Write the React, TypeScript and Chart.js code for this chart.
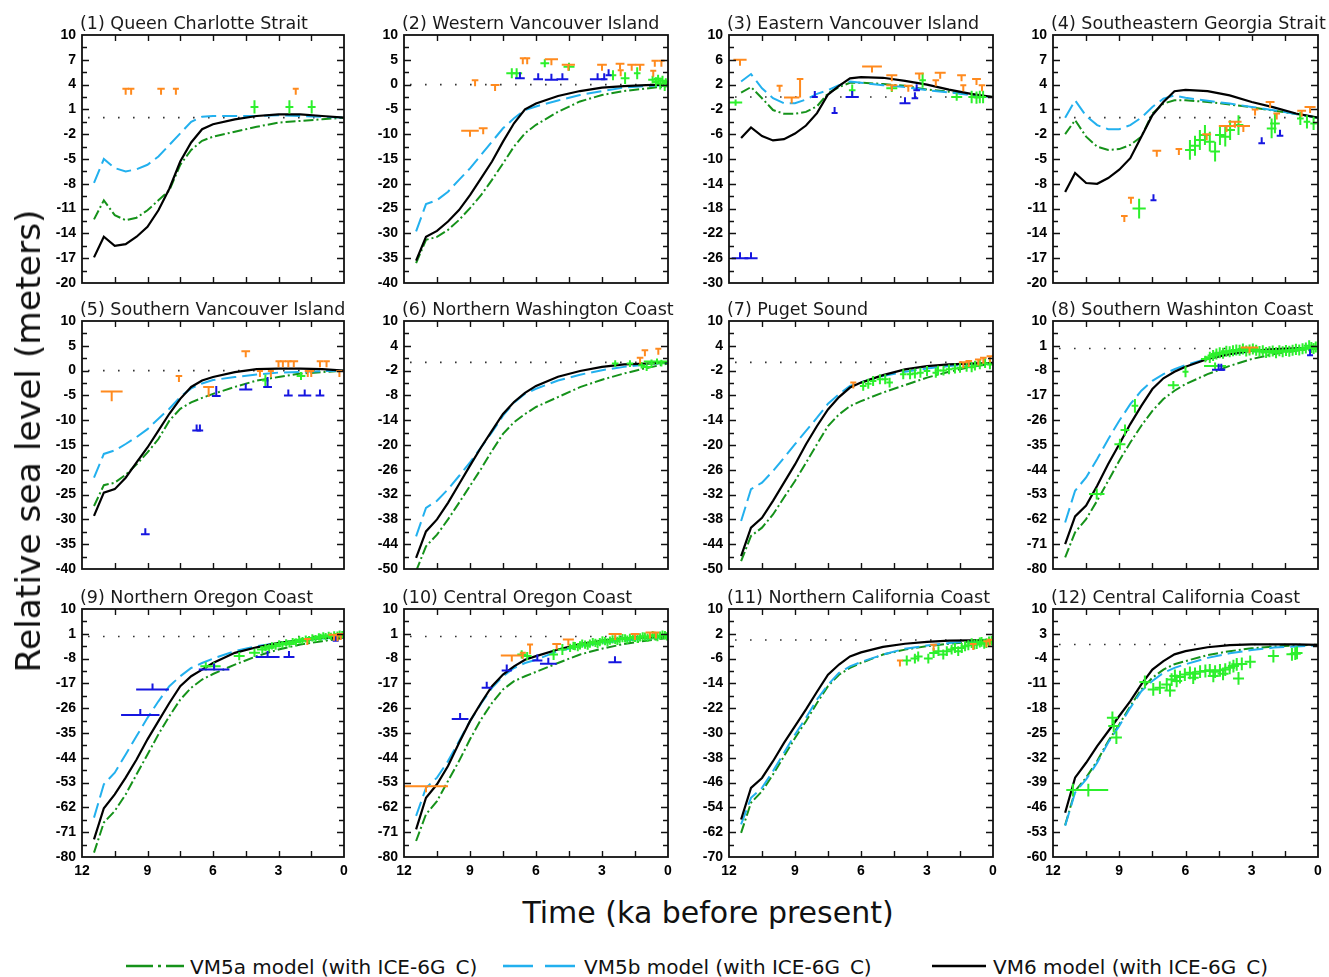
import React, { useEffect, useRef } from 'react';
import { Chart, registerables } from 'chart.js';

Chart.register(...registerables);

// ---------------- DATA ----------------
// model sampling ages (ka before present)
const ageNodes = [11.45, 11, 10.5, 10, 9.5, 9, 8.5, 8, 7.5, 7, 6.5, 6, 5, 4, 3, 2, 1, 0];

const panelTitles = [
  '(1) Queen Charlotte Strait',
  '(2) Western Vancouver Island',
  '(3) Eastern Vancouver Island',
  '(4) Southeastern Georgia Strait',
  '(5) Southern Vancouver Island',
  '(6) Northern Washington Coast',
  '(7) Puget Sound',
  '(8) Southern Washinton Coast',
  '(9) Northern Oregon Coast',
  '(10) Central Oregon Coast',
  '(11) Northern California Coast',
  '(12) Central California Coast',
];

// y-axis tick labels: min, max, step
const yMins = [-20, -40, -30, -20, -40, -50, -50, -80, -80, -80, -70, -60];
const yMaxs = [10, 10, 10, 10, 10, 10, 10, 10, 10, 10, 10, 10];
const ySteps = [3, 5, 4, 3, 5, 6, 6, 9, 9, 9, 8, 7];
// x-axis tick labels
const xTickMin = 0;
const xTickMax = 12;
const xTickStep = 3;

// model curves (m)
const p1VM5a = [-12.3, -10.0, -11.8, -12.4, -12.1, -11.2, -10.0, -8.8, -5.7, -3.9, -2.8, -2.3, -1.7, -1.1, -0.6, -0.4, -0.2, 0];
const p1VM5b = [-7.9, -5.0, -6.1, -6.5, -6.25, -5.7, -4.7, -3.3, -1.9, -0.5, 0.1, 0.2, 0.2, 0.2, 0.3, 0.2, 0.1, 0];
const p1VM6 = [-16.9, -14.4, -15.5, -15.3, -14.4, -13.2, -11.2, -8.6, -5.3, -3.0, -1.4, -0.8, -0.2, 0.2, 0.4, 0.4, 0.2, 0];

const p2VM5a = [-36, -31.3, -30.7, -29.3, -27.3, -24.9, -22.3, -19.2, -15.9, -12.5, -9.8, -8.1, -5.5, -3.4, -2.1, -1.3, -0.8, -0.3];
const p2VM5b = [-29.6, -24.1, -23.3, -21.6, -19.2, -16.9, -14.2, -11.5, -8.8, -6.8, -5.1, -4.4, -3.2, -2.1, -1.3, -0.6, -0.3, -0.1];
const p2VM6 = [-35.5, -30.7, -29.5, -27.6, -25.3, -22.3, -18.9, -15.5, -11.5, -7.8, -5.0, -3.8, -2.3, -1.3, -0.6, -0.3, -0.1, 0];

const p3VM5a = [0.7, 1.6, -0.2, -2.1, -2.7, -2.7, -2.4, -1.5, 0.6, 1.6, 2.3, 2.3, 2.1, 1.8, 1.2, 0.85, 0.4, 0];
const p3VM5b = [2.5, 3.7, 1.4, -0.2, -1.0, -1.0, -0.4, 0.5, 1.1, 1.9, 2.5, 2.3, 1.9, 1.6, 1.1, 0.75, 0.3, 0];
const p3VM6 = [-6.6, -4.9, -6.3, -7.0, -6.8, -5.9, -4.6, -2.6, 0.4, 1.8, 3.0, 3.2, 3.1, 2.6, 2.0, 1.2, 0.5, 0];

const p4VM5a = [-2.0, -0.3, -2.3, -3.5, -3.9, -3.8, -3.3, -2.3, 0.5, 1.7, 2.1, 2.1, 1.9, 1.6, 1.25, 0.85, 0.45, 0];
const p4VM5b = [0, 2.1, 0.2, -0.9, -1.4, -1.4, -0.9, 0.0, 1.3, 2.3, 2.7, 2.4, 2.05, 1.7, 1.3, 0.9, 0.45, 0];
const p4VM6 = [-9.0, -6.7, -7.9, -8.0, -7.3, -6.3, -4.9, -2.3, 0.3, 1.9, 3.2, 3.35, 3.2, 2.7, 1.9, 1.25, 0.5, 0];

const p5VM5a = [-27.3, -23.1, -22.6, -21.0, -18.9, -16.5, -13.8, -10.1, -7.7, -6.4, -5.5, -4.7, -3.3, -2.0, -1.3, -0.6, -0.3, 0];
const p5VM5b = [-21.6, -16.8, -16.1, -14.8, -13.4, -11.8, -9.7, -7.7, -5.3, -3.6, -2.6, -1.9, -1.3, -0.8, -0.4, -0.3, -0.1, 0];
const p5VM6 = [-29.3, -24.6, -23.9, -21.6, -18.5, -15.5, -12.1, -8.7, -5.7, -3.3, -2.0, -1.3, -0.3, 0.3, 0.4, 0.4, 0.3, 0];

const p6VM5a = [-50.5, -44.5, -41.7, -38.0, -34.0, -29.9, -25.8, -21.4, -17.3, -14.5, -12.5, -10.8, -8.4, -6.0, -4.2, -2.7, -1.4, -0.3];
const p6VM5b = [-42.1, -35.2, -33.5, -30.7, -27.5, -24.2, -20.6, -16.9, -12.9, -9.8, -7.6, -6.4, -4.4, -3.0, -1.9, -1.1, -0.5, -0.1];
const p6VM6 = [-47.3, -40.9, -38.0, -34.0, -29.5, -25.0, -20.6, -16.5, -12.5, -9.6, -7.4, -5.7, -3.5, -2.1, -1.1, -0.5, -0.3, 0];

const p7VM5a = [-48.1, -42.0, -40.0, -36.8, -32.7, -28.7, -24.3, -19.8, -15.4, -12.6, -10.6, -9.4, -7.3, -5.5, -3.7, -2.3, -1.1, -0.3];
const p7VM5b = [-38.4, -30.7, -29.1, -26.3, -23.1, -19.8, -16.6, -13.4, -10.0, -7.7, -5.7, -4.8, -3.3, -2.3, -1.5, -0.9, -0.5, -0.2];
const p7VM6 = [-46.9, -40.0, -37.6, -33.5, -29.1, -24.7, -19.8, -15.4, -11.4, -8.4, -6.1, -4.9, -3.1, -1.7, -0.9, -0.5, -0.3, -0.2];

const p8VM5a = [-75.8, -66.7, -61.9, -55.2, -48.0, -40.7, -34.1, -28.0, -22.6, -18.3, -15.3, -12.9, -9.3, -6.3, -3.8, -2.0, -0.8, 0.0];
const p8VM5b = [-63.1, -51.6, -46.8, -40.1, -32.9, -26.2, -20.2, -15.3, -11.7, -9.3, -7.5, -6.0, -3.6, -2.0, -1.1, -0.5, 0.0, 0.3];
const p8VM6 = [-71.0, -60.9, -57.0, -49.8, -41.9, -34.7, -27.4, -20.8, -14.7, -10.8, -8.4, -6.6, -3.8, -2.0, -0.8, -0.2, 0.1, 0.4];

const p9VM5a = [-78.4, -67.5, -63.3, -57.3, -50.0, -42.8, -35.5, -28.9, -22.9, -18.6, -15.6, -13.6, -10.2, -7.1, -4.7, -2.9, -1.7, -0.5];
const p9VM5b = [-65.7, -53.6, -49.4, -42.8, -36.1, -29.5, -23.5, -18.0, -14.4, -11.4, -9.6, -8.0, -5.3, -3.5, -2.3, -1.4, -0.7, -0.3];
const p9VM6 = [-73.6, -62.3, -57.3, -51.2, -44.6, -37.3, -30.7, -24.1, -18.0, -14.4, -12.0, -9.6, -5.9, -3.9, -2.3, -1.4, -0.5, -0.3];

const p10VM5a = [-74.2, -64.5, -59.7, -52.4, -45.2, -37.3, -30.1, -24.1, -19.2, -16.2, -14.4, -12.8, -9.6, -6.5, -4.4, -2.7, -1.5, -0.5];
const p10VM5b = [-65.1, -54.9, -51.2, -45.2, -38.0, -30.7, -24.4, -18.6, -14.4, -11.4, -9.6, -8.4, -5.3, -3.5, -2.3, -1.5, -0.7, -0.3];
const p10VM6 = [-70, -58.5, -53.6, -47.0, -38.6, -30.7, -24.1, -18.0, -13.8, -10.8, -8.4, -7.1, -4.7, -2.7, -1.5, -0.7, -0.3, 0.1];

const p11VM5a = [-62.2, -52.5, -48.8, -43.4, -37.5, -31.6, -26.2, -20.3, -14.9, -11.2, -9.0, -7.4, -4.7, -3.1, -2.0, -1.2, -0.6, -0.2];
const p11VM5b = [-59.5, -50.9, -47.7, -42.3, -36.4, -30.5, -25.1, -19.2, -14.4, -10.6, -8.5, -7.1, -4.7, -2.8, -1.8, -1.0, -0.4, -0.1];
const p11VM6 = [-57.9, -47.7, -44.5, -39.1, -33.2, -27.8, -22.4, -16.7, -11.2, -7.9, -5.3, -4.0, -2.2, -1.2, -0.6, -0.2, -0.1, -0.1];

const p12VM5a = [-51.0, -41.4, -37.6, -32.9, -27.3, -22.6, -17.4, -12.7, -9.4, -7.1, -5.6, -4.7, -3.0, -1.9, -1.1, -0.6, -0.3, -0.1];
const p12VM5b = [-51.2, -41.8, -38.1, -33.4, -27.7, -23.0, -17.9, -13.2, -10.3, -8.0, -6.6, -5.6, -3.8, -2.5, -1.6, -0.9, -0.6, -0.3];
const p12VM6 = [-47.5, -37.6, -33.4, -28.7, -24.5, -20.2, -16.0, -11.3, -7.1, -4.7, -2.8, -1.9, -0.8, -0.2, 0.0, 0.0, 0.0, -0.1];

// observations: [age, height, ageErr, heightErr?]
// orange = limiting (bar with stem below), blue = limiting (bar with stem above), green = index point (cross)
const p1Orange = [[10.0, 3.5, 0.15], [9.75, 3.5, 0.15], [8.38, 3.5, 0.17], [7.7, 3.5, 0.12], [2.21, 3.5, 0.12]];
const p1Blue: number[][] = [];
const p1Green = [[4.1, 1.3], [2.5, 1.3], [1.48, 1.3]];

const p2Orange = [[8.77, 0.9, 0.15], [7.86, -0.1, 0.2], [9.0, -9.3, 0.4], [8.4, -8.8, 0.2], [6.6, 5.3, 0.12], [6.4, 5.3, 0.12], [5.3, 5.1, 0.3], [4.53, 4.0, 0.3], [3.0, 4.0, 0.22], [2.18, 4.2, 0.2], [2.15, 2.9, 0.12], [1.65, 4.0, 0.2], [1.27, 4.0, 0.2], [0.6, 4.8, 0.15], [0.3, 4.8, 0.15], [0.67, 2.8, 0.12]];
const p2Blue = [[6.73, 1.3, 0.22], [5.9, 1.1, 0.22], [5.3, 1.0, 0.3], [4.8, 1.1, 0.27], [3.2, 1.1, 0.35], [2.9, 1.1, 0.15], [2.7, 1.9, 0.12]];
const p2Green = [[7.1, 2.3, 0.25, 1], [6.88, 2.3, 0.25, 1], [5.6, 4.3, 0.2, 0.8], [4.5, 3.6, 0.25, 0.8], [2.5, 1.9, 0.15, 1], [1.95, 1.3, 0.2, 1.2], [1.4, 2.3, 0.15, 1.2], [0.7, 1.0, 0.2, 0.8], [0.55, 0.5, 0.15, 1], [0.45, 1.2, 0.2, 0.8], [0.35, 0.2, 0.15, 1.2], [0.25, 0.8, 0.2, 1], [0.15, -0.3, 0.15, 1], [0.1, 0.5, 0.15, 0.8]];

const p3Orange = [[11.5, 6.0, 0.3], [9.7, 1.8, 0.1], [9.15, -0.1, 0.35], [8.77, 2.9, 0.15, 3], [5.5, 4.9, 0.45], [4.6, 3.5, 0.25], [4.6, 1.9, 0.25], [3.85, 1.8, 0.2], [3.35, 3.8, 0.2], [2.6, 2.7, 0.15], [2.4, 3.9, 0.25], [1.43, 3.5, 0.2], [1.35, 1.9, 0.12], [0.75, 2.9, 0.2], [0.5, 1.9, 0.15]];
const p3Blue = [[11.5, -26.0, 0.38], [11.0, -26.0, 0.3], [8.1, 0, 0.12], [7.2, -2.6, 0.08], [6.4, 0, 0.3], [4.0, -1.0, 0.25], [3.55, -0.2, 0.15], [3.47, 1.1, 0.15]];
const p3Green = [[11.7, -0.9, 0.3, 0.5], [6.4, 1.1, 0.15, 0.9], [4.6, 1.4, 0.25, 0.6], [3.2, 2.7, 0.15, 1.2], [1.65, 0, 0.25, 0.6], [0.97, 0, 0.15, 1], [0.75, -0.1, 0.12, 1], [0.6, 0, 0.1, 1], [0.45, 0, 0.1, 1]];

const p4Orange = [[8.77, -11.9, 0.15], [8.47, -9.7, 0.12], [7.3, -4.0, 0.2], [6.3, -3.8, 0.15], [5.04, -2.0, 0.2], [4.14, -1.0, 0.35], [3.76, -0.5, 0.3], [3.38, -1.0, 0.3], [2.85, 1.0, 0.15], [2.17, 1.9, 0.2], [1.87, 0.5, 0.15], [0.74, 0.85, 0.2], [0.36, 1.3, 0.25]];
const p4Blue = [[7.45, -10.0, 0.1], [2.55, -3.1, 0.15], [1.72, -2.2, 0.15]];
const p4Green = [[8.1, -11.0, 0.3, 1.2], [5.8, -3.9], [5.57, -3.4], [5.35, -2.7], [5.12, -2.1], [4.9, -2.9], [4.66, -4.1], [4.44, -2.1], [4.2, -2.3], [3.98, -1.5], [3.6, -0.9], [2.1, -1.3], [1.95, -0.7], [0.8, -0.1, 0.15, 0.8], [0.5, -0.5, 0.15, 0.8], [0.2, -0.7, 0.15, 0.8]];

const p5Orange = [[10.64, -4.2, 0.5, 2], [7.56, -1.1, 0.15], [6.2, -3.3, 0.25, 2], [4.5, 3.9, 0.2], [3.85, -0.1, 0.1], [3.35, -0.1, 0.1], [3.0, 1.9, 0.1], [2.8, 1.9, 0.1], [2.55, 1.9, 0.15], [2.3, 1.9, 0.2], [1.66, -0.1, 0.1], [1.5, -0.1, 0.1], [1.1, 1.9, 0.15], [0.8, 1.9, 0.15], [0.21, -0.1, 0.05]];
const p5Blue = [[9.1, -33.0, 0.2], [6.75, -12.1, 0.2], [6.6, -12.1, 0.15], [5.85, -5.1, 0.2, 2], [4.5, -3.8, 0.3], [3.5, -3.3, 0.2, 2], [2.55, -5.0, 0.2], [1.8, -5.0, 0.3], [1.1, -5.0, 0.2]];
const p5Green = [[3.6, -2.0, 0.15, 1.2], [1.97, -1.1, 0.2, 0.8]];

const p6Orange = [[1.05, 2.9, 0.15], [0.44, 3.3, 0.12], [1.27, 1.1, 0.15]];
const p6Blue: number[][] = [];
const p6Green = [[2.4, -0.3], [1.73, -0.3], [1.2, -0.7], [0.97, -1.1, 0.2, 1], [0.75, -0.3, 0.15, 1], [0.5, 0.2, 0.6, 0.5], [0.3, -0.2]];

const p7Orange = [[6.35, -4.9, 0.1], [1.35, 0.0, 0.2], [1.1, 0.3, 0.15], [0.67, 0.7, 0.15], [0.44, 1.1, 0.15], [0.14, 1.5, 0.15]];
const p7Blue: number[][] = [];
const p7Green = [[5.9, -5.7], [5.67, -5.2], [5.45, -4.5], [5.14, -4.1], [4.9, -4.1], [4.7, -4.9], [4.08, -2.9], [3.77, -2.9], [3.55, -2.7], [3.3, -2.5], [3.0, -2.1], [2.6, -2.5], [2.5, -2.0], [2.25, -2.0], [2.0, -1.7], [1.73, -1.5], [1.5, -1.3], [1.2, -1.1], [0.97, -1.2], [0.82, -0.8], [0.6, -0.5], [0.36, -0.2], [0.14, -0.5]];

const p8Orange = [[3.1, 0.4, 0.4]];
const p8Blue = [[4.5, -7.7, 0.3], [4.38, -7.7, 0.05], [0.36, -2.4, 0.1]];
const p8Green = [[10.02, -52.8, 0.35, 2], [8.97, -34.7, 0.25, 2], [8.74, -29.6, 0.2, 2], [8.29, -20.8, 0.15, 2.5], [6.55, -13.3, 0.25, 1.5], [6.0, -8.4, 0.12, 2], [5.1, -3.8, 0.2, 1.2], [4.66, -6.3, 0.5, 1.2],
  [4.9, -3.2], [4.75, -2.5], [4.6, -2.0], [4.45, -1.5], [4.3, -1.7], [4.15, -1.0], [4.0, -1.2], [3.85, -0.8], [3.7, -0.5], [3.55, -0.6], [3.4, -0.2], [3.25, -0.9], [3.1, -0.5], [2.95, -0.2], [2.8, -0.6], [2.65, -1.1], [2.5, -0.8], [2.35, -1.4], [2.2, -1.2], [2.05, -0.9], [1.9, -1.5], [1.75, -0.8], [1.6, -1.2], [1.45, -0.7], [1.3, -1.0], [1.15, -0.6], [1.0, -0.3], [0.85, -0.5], [0.7, -0.1], [0.55, 0.2], [0.4, 1.0], [0.3, 0.4], [0.2, 0.0], [0.1, 0.6]];

const p9Orange = [[1.68, -0.9, 0.15], [0.46, 0.7, 0.25], [0.15, 0.9, 0.2], [0.3, 0.5, 0.2]];
const p9Blue = [[8.77, -19.2, 0.75], [9.33, -28.5, 0.88], [5.95, -12.0, 0.7], [3.5, -7.4, 0.55], [2.52, -7.4, 0.25], [0.38, -1.5, 0.12]];
const p9Green = [[6.33, -10.8, 0.25, 1.5], [5.95, -10.8, 0.3, 1.5], [4.8, -7.1, 0.25, 1.5], [4.1, -5.9, 0.25, 1.5],
  [3.74, -4.7], [3.6, -4.0], [3.43, -4.1], [3.3, -3.4], [3.13, -3.5], [2.97, -2.6], [2.82, -2.9], [2.65, -2.3], [2.5, -2.7], [2.35, -1.8], [2.2, -2.0], [2.05, -1.2], [1.9, -1.5], [1.75, -0.9], [1.6, -1.1], [1.45, -0.5], [1.3, -0.7], [1.15, -0.1], [1.07, -0.3], [0.95, 0.3], [0.84, 0.0], [0.7, 0.4], [0.6, 0.1], [0.45, 0.6], [0.3, 0.5], [0.2, 0.9], [0.08, 0.7]];

const p10Orange = [[11.0, -54.3, 1.0], [7.1, -6.9, 0.5], [6.6, -5.9, 0.12], [6.27, -2.9, 0.12, 3.5], [5.06, -2.7, 0.2, 2], [4.53, -1.1, 0.25], [2.4, 0.9, 0.3], [1.5, 0.9, 0.2], [0.82, 1.5, 0.2], [0.55, 1.5, 0.15]];
const p10Blue = [[9.45, -29.9, 0.38], [8.24, -18.6, 0.23], [7.33, -12.3, 0.23], [5.94, -8.7, 0.23], [5.44, -9.9, 0.38], [2.41, -9.3, 0.3]];
const p10Green = [[6.65, -6.5, 0.2, 1.5], [6.4, -7.1, 0.2, 1.5], [5.2, -6.5, 0.2, 2], [4.8, -4.7, 0.2, 2],
  [4.45, -4.1], [4.3, -3.4], [4.23, -3.5], [4.1, -3.8], [4.0, -3.2], [3.9, -2.6], [3.77, -2.9], [3.65, -3.3], [3.55, -2.6], [3.42, -2.0], [3.3, -2.3], [3.2, -2.7], [3.1, -2.0], [2.98, -1.4], [2.86, -1.7], [2.75, -2.1], [2.64, -1.5], [2.52, -1.0], [2.4, -1.2], [2.3, -1.6], [2.2, -1.0], [2.07, -0.6], [1.95, -0.7], [1.85, -1.1], [1.73, -0.5], [1.6, -0.2], [1.5, -0.5], [1.38, -0.8], [1.27, -0.3], [1.15, 0.1], [1.05, 0.0], [0.93, -0.4], [0.82, 0.1], [0.7, 0.5], [0.6, 0.2], [0.48, -0.2], [0.36, 0.3], [0.25, 0.7], [0.14, 0.5], [0.05, 0.1]];

const p11Orange = [[4.23, -6.6, 0.12], [2.7, -1.5, 0.15], [0.9, -1.3, 0.15], [0.3, -0.4, 0.12], [0.15, 0.1, 0.12]];
const p11Blue: number[][] = [];
const p11Green = [[3.92, -6.6], [3.55, -6.0], [3.4, -5.3], [2.94, -6.0], [2.7, -4.2], [2.48, -3.6], [2.26, -4.7], [2.1, -3.6], [1.88, -3.1], [1.73, -2.6], [1.58, -3.6], [1.42, -2.6], [1.27, -2.0], [1.12, -1.7], [0.97, -1.0], [0.85, -1.5], [0.74, -1.3], [0.6, -0.8], [0.52, -0.6], [0.4, -1.2], [0.3, -1.0], [0.18, -0.5], [0.06, -0.2]];

const p12Orange: number[][] = [];
const p12Blue: number[][] = [];
const p12Green = [[11.1, -41.1, 0.3], [10.4, -41.1, 0.9], [9.31, -20.7], [9.25, -23.0], [9.13, -26.3], [7.84, -10.6], [7.46, -12.7], [7.16, -12.2], [6.85, -11.3], [6.7, -13.0], [6.63, -9.9], [6.48, -8.9], [6.4, -10.3], [6.25, -9.2], [6.03, -8.5], [5.8, -8.0], [5.65, -9.4], [5.57, -8.3], [5.34, -7.7], [5.1, -7.5], [4.9, -7.3], [4.74, -8.9], [4.66, -7.7], [4.44, -7.3], [4.3, -8.3], [4.2, -7.1], [4.0, -6.6], [3.83, -6.1], [3.68, -5.6], [3.6, -9.6], [3.45, -5.5], [3.07, -4.9], [2.02, -3.3], [1.18, -2.8], [1.03, -2.6], [0.95, -2.4]];

// default measurement uncertainties per panel (age ka, height m)
const greenAgeErr = [0.18, 0.2, 0.2, 0.22, 0.2, 0.15, 0.15, 0.25, 0.25, 0.12, 0.2, 0.25];
const greenHeightErr = [0.8, 0.9, 0.8, 1.2, 1, 0.8, 1.2, 2, 1.3, 1.5, 1.6, 1.8];
const limitAgeErr = 0.15;

const legendLabels = ['VM5a model (with ICE-6G_C)', 'VM5b model (with ICE-6G_C)', 'VM6 model (with ICE-6G_C)'];

// tables built from the arrays above
const vm5aTable = [p1VM5a, p2VM5a, p3VM5a, p4VM5a, p5VM5a, p6VM5a, p7VM5a, p8VM5a, p9VM5a, p10VM5a, p11VM5a, p12VM5a];
const vm5bTable = [p1VM5b, p2VM5b, p3VM5b, p4VM5b, p5VM5b, p6VM5b, p7VM5b, p8VM5b, p9VM5b, p10VM5b, p11VM5b, p12VM5b];
const vm6Table = [p1VM6, p2VM6, p3VM6, p4VM6, p5VM6, p6VM6, p7VM6, p8VM6, p9VM6, p10VM6, p11VM6, p12VM6];
const orangeTable = [p1Orange, p2Orange, p3Orange, p4Orange, p5Orange, p6Orange, p7Orange, p8Orange, p9Orange, p10Orange, p11Orange, p12Orange];
const blueTable = [p1Blue, p2Blue, p3Blue, p4Blue, p5Blue, p6Blue, p7Blue, p8Blue, p9Blue, p10Blue, p11Blue, p12Blue];
const greenTable = [p1Green, p2Green, p3Green, p4Green, p5Green, p6Green, p7Green, p8Green, p9Green, p10Green, p11Green, p12Green];

// ---------------- LAYOUT / STYLE ----------------
const LAYOUT = {
  lefts: [82, 404, 729, 1053],
  widths: [262, 264, 264, 265],
  tops: [35, 321, 609],
  height: 248,
  padL: 60,
  padT: 28,
  padR: 12,
  padB: 24,
};

const COLORS = {
  vm5a: '#15921a',
  vm5b: '#22b0ee',
  vm6: '#000000',
  orange: '#ff8a1e',
  blue: '#1616e0',
  green: '#2cf02c',
  zero: '#333333',
};

const tickFont = { family: 'Liberation Sans', size: 14, weight: 700 };

const decoPlugin = {
  id: 'panelDeco',
  afterDatasetsDraw(chart: any, _args: any, opts: any) {
    const { ctx, chartArea: a } = chart;
    const xs = chart.scales.x;
    const ys = chart.scales.y;

    // observation markers
    ctx.save();
    ctx.beginPath();
    ctx.rect(a.left, a.top, a.right - a.left, a.bottom - a.top);
    ctx.clip();
    ctx.lineWidth = 2;
    ctx.lineCap = 'butt';
    chart.data.datasets.forEach((ds: any, di: number) => {
      if (!ds.markerKind) return;
      const meta = chart.getDatasetMeta(di);
      ctx.strokeStyle = ds.markerColor;
      meta.data.forEach((el: any, i: number) => {
        const p = ds.data[i];
        const px = el.x;
        const py = el.y;
        let xl = xs.getPixelForValue(p.x + p.xe);
        let xr = xs.getPixelForValue(p.x - p.xe);
        if (xr - xl < 6) { xl = px - 3; xr = px + 3; }
        ctx.beginPath();
        ctx.moveTo(xl, py);
        ctx.lineTo(xr, py);
        if (ds.markerKind === 'cross') {
          let yt = ys.getPixelForValue(p.y + p.ye);
          let yb = ys.getPixelForValue(p.y - p.ye);
          if (yb - yt < 6) { yt = py - 3; yb = py + 3; }
          ctx.moveTo(px, yt);
          ctx.lineTo(px, yb);
        } else if (ds.markerKind === 'down') {
          const yb = p.ye != null ? ys.getPixelForValue(p.y - p.ye) : py + 6;
          ctx.moveTo(px, py);
          ctx.lineTo(px, yb);
        } else {
          const yt = p.ye != null ? ys.getPixelForValue(p.y + p.ye) : py - 6;
          ctx.moveTo(px, py);
          ctx.lineTo(px, yt);
        }
        ctx.stroke();
      });
    });
    ctx.restore();

    // frame with inward ticks on all sides
    const split = (scale: any) => {
      const vals = scale.ticks.map((t: any) => t.value).sort((u: number, v: number) => u - v);
      const minor: number[] = [];
      for (let i = 0; i < vals.length - 1; i++) minor.push((vals[i] + vals[i + 1]) / 2);
      return { major: vals, minor };
    };
    const xt = split(xs);
    const yt = split(ys);
    ctx.save();
    ctx.strokeStyle = '#111';
    ctx.lineWidth = 1.4;
    ctx.beginPath();
    const xDraw = (vals: number[], len: number) => vals.forEach((v) => {
      if (v <= xs.min || v >= xs.max) return;
      const px = Math.round(xs.getPixelForValue(v)) + 0.5;
      ctx.moveTo(px, a.bottom); ctx.lineTo(px, a.bottom - len);
      ctx.moveTo(px, a.top); ctx.lineTo(px, a.top + len);
    });
    const yDraw = (vals: number[], len: number) => vals.forEach((v) => {
      if (v <= ys.min || v >= ys.max) return;
      const py = Math.round(ys.getPixelForValue(v)) + 0.5;
      ctx.moveTo(a.left, py); ctx.lineTo(a.left + len, py);
      ctx.moveTo(a.right, py); ctx.lineTo(a.right - len, py);
    });
    xDraw(xt.major, 6); xDraw(xt.minor, 6);
    yDraw(yt.major, 7); yDraw(yt.minor, 5);
    ctx.stroke();
    ctx.lineWidth = 1.8;
    ctx.strokeRect(a.left, a.top, a.right - a.left, a.bottom - a.top);
    ctx.restore();

    // panel title
    ctx.save();
    ctx.font = '17.5px "DejaVu Sans", sans-serif';
    ctx.fillStyle = '#1a1a1a';
    ctx.textAlign = 'left';
    ctx.textBaseline = 'alphabetic';
    ctx.fillText(opts.title, a.left - 2, a.top - 6);
    ctx.restore();
  },
};

const toLimit = (arr: number[][]) => arr.map((t) => ({ x: t[0], y: t[1], xe: t[2] ?? limitAgeErr, ye: t[3] }));
const toCross = (arr: number[][], xeD: number, yeD: number) => arr.map((t) => ({ x: t[0], y: t[1], xe: t[2] ?? xeD, ye: t[3] ?? yeD }));
const curve = (ys: number[]) => ageNodes.map((a, i) => ({ x: a, y: ys[i] }));

function buildConfig(i: number): any {
  const showX = Math.floor(i / 4) === 2;
  return {
    type: 'scatter',
    data: {
      datasets: [
        { label: 'green', data: toCross(greenTable[i], greenAgeErr[i], greenHeightErr[i]), pointRadius: 0, markerKind: 'cross', markerColor: COLORS.green },
        { label: 'blue', data: toLimit(blueTable[i]), pointRadius: 0, markerKind: 'up', markerColor: COLORS.blue },
        { label: 'orange', data: toLimit(orangeTable[i]), pointRadius: 0, markerKind: 'down', markerColor: COLORS.orange },
        { label: legendLabels[2], data: curve(vm6Table[i]), showLine: true, pointRadius: 0, borderColor: COLORS.vm6, borderWidth: 2.2 },
        { label: legendLabels[1], data: curve(vm5bTable[i]), showLine: true, pointRadius: 0, borderColor: COLORS.vm5b, borderWidth: 2, borderDash: [15, 6] },
        { label: legendLabels[0], data: curve(vm5aTable[i]), showLine: true, pointRadius: 0, borderColor: COLORS.vm5a, borderWidth: 2, borderDash: [10, 3, 2, 3] },
        { label: 'zero', data: [{ x: xTickMax, y: 0 }, { x: xTickMin, y: 0 }], showLine: true, pointRadius: 0, borderColor: COLORS.zero, borderWidth: 1.6, borderDash: [1.6, 13.4], borderDashOffset: 9 },
      ],
    },
    options: {
      animation: false,
      responsive: false,
      events: [],
      layout: { padding: { top: LAYOUT.padT, right: LAYOUT.padR, left: 0, bottom: 0 } },
      plugins: { legend: { display: false }, tooltip: { enabled: false }, panelDeco: { title: panelTitles[i] } },
      scales: {
        x: {
          type: 'linear',
          min: xTickMin,
          max: xTickMax,
          reverse: true,
          grid: { display: false, drawTicks: false },
          border: { display: false },
          ticks: { stepSize: xTickStep, display: showX, font: tickFont, color: '#000', padding: 6, maxRotation: 0, autoSkip: false, callback: (v: number) => String(v) },
          afterFit: (s: any) => { s.height = LAYOUT.padB; s.paddingLeft = 0; s.paddingRight = 0; },
        },
        y: {
          type: 'linear',
          min: yMins[i],
          max: yMaxs[i],
          grid: { display: false, drawTicks: false },
          border: { display: false },
          ticks: { stepSize: ySteps[i], font: tickFont, color: '#000', padding: 6, autoSkip: false, callback: (v: number) => String(v) },
          afterFit: (s: any) => { s.width = LAYOUT.padL; s.paddingTop = 0; s.paddingBottom = 0; },
        },
      },
    },
    plugins: [decoPlugin],
  };
}

function LegendLine({ dash, color }: { dash?: string; color: string }) {
  return (
    <svg width={80} height={8} style={{ display: 'block' }}>
      <line x1={0} y1={4} x2={80} y2={4} stroke={color} strokeWidth={2.6} strokeDasharray={dash} />
    </svg>
  );
}

export default function App() {
  const refs = useRef<(HTMLCanvasElement | null)[]>([]);

  useEffect(() => {
    const charts = panelTitles.map((_, i) => new Chart(refs.current[i] as HTMLCanvasElement, buildConfig(i)));
    return () => charts.forEach((c) => c.destroy());
  }, []);

  const legendItems = [
    { x: 126, w: 58, tx: 190, dash: '27 5 3 5', color: COLORS.vm5a, label: legendLabels[0] },
    { x: 503, w: 72, tx: 584, dash: '30 12', color: COLORS.vm5b, label: legendLabels[1] },
    { x: 932, w: 54, tx: 993, dash: undefined, color: COLORS.vm6, label: legendLabels[2] },
  ];

  return (
    <div style={{ position: 'absolute', left: 0, top: 0, width: 1329, height: 977, overflow: 'hidden', background: '#fff', fontFamily: '"DejaVu Sans", sans-serif', color: '#111' }}>
      {panelTitles.map((_, i) => {
        const col = i % 4;
        const row = Math.floor(i / 4);
        const w = LAYOUT.padL + LAYOUT.widths[col] + LAYOUT.padR;
        const h = LAYOUT.padT + LAYOUT.height + LAYOUT.padB;
        return (
          <canvas
            key={i}
            ref={(el) => { refs.current[i] = el; }}
            width={w}
            height={h}
            style={{ position: 'absolute', left: LAYOUT.lefts[col] - LAYOUT.padL, top: LAYOUT.tops[row] - LAYOUT.padT, width: w, height: h }}
          />
        );
      })}
      <div style={{ position: 'absolute', left: 28, top: 441, transform: 'translate(-50%, -50%) rotate(-90deg)', whiteSpace: 'nowrap', fontSize: 34.5, lineHeight: '40px' }}>
        Relative sea level (meters)
      </div>
      <div style={{ position: 'absolute', left: 708, top: 895, transform: 'translateX(-50%)', whiteSpace: 'nowrap', fontSize: 30, lineHeight: '36px' }}>
        Time (ka before present)
      </div>
      {legendItems.map((it, k) => (
        <React.Fragment key={k}>
          <div style={{ position: 'absolute', left: it.x, top: 962, width: it.w, overflow: 'hidden' }}>
            <LegendLine dash={it.dash} color={it.color} />
          </div>
          <div style={{ position: 'absolute', left: it.tx, top: 955, whiteSpace: 'nowrap', fontSize: 20, lineHeight: '24px' }}>
            {it.label}
          </div>
        </React.Fragment>
      ))}
    </div>
  );
}
